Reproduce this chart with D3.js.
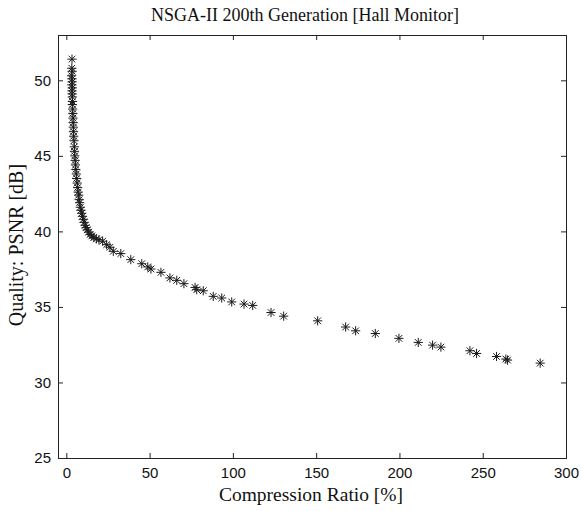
<!DOCTYPE html>
<html>
<head>
<meta charset="utf-8">
<script src="https://cdn.jsdelivr.net/npm/d3@7"></script>
<style>
  html, body { margin: 0; padding: 0; background: #fff; }
  svg { display: block; }
</style>
</head>
<body>
<svg id="chart" width="582" height="511"></svg>
<script>
// ---- data ----
const compressionRatio = [
  3.4, 3.3, 3.5, 3.2, 3.4, 3.5, 3.3, 3.6, 3.4, 3.5,
  3.6, 3.7, 3.6, 3.8, 3.9, 4.0, 4.1, 4.2, 4.3, 4.4,
  4.6, 4.8, 4.9, 5.1, 5.3, 5.5, 5.7, 6.0, 6.2, 6.5,
  6.8, 7.1, 7.4, 7.7, 8.0, 8.4, 8.8, 9.2, 9.7, 10.2,
  10.7, 11.3, 11.9, 12.6, 13.4, 14.3, 15.3, 16.5, 18.0, 19.6,
  21.8, 24.2, 26.2, 28.2, 32.7, 38.7, 45.3, 48.9, 50.8, 56.8,
  62.2, 66.3, 70.6, 77.3, 78.3, 82.2, 88.2, 93.3, 99.3, 106.7,
  111.9, 122.9, 130.5, 150.9, 167.7, 173.7, 185.5, 199.7, 211.3, 219.9,
  224.9, 242.3, 246.3, 258.3, 263.9, 264.9, 284.5
];
const psnr = [
  51.4, 50.8, 50.6, 50.3, 50.1, 49.9, 49.7, 49.5, 49.3, 49.1,
  48.9, 48.6, 48.4, 48.1, 47.8, 47.5, 47.2, 46.9, 46.6, 46.3,
  46.0, 45.6, 45.3, 45.0, 44.7, 44.4, 44.1, 43.8, 43.5, 43.2,
  42.9, 42.6, 42.4, 42.1, 41.9, 41.6, 41.4, 41.2, 41.0, 40.8,
  40.6, 40.4, 40.25, 40.1, 39.95, 39.8, 39.7, 39.6, 39.5, 39.45,
  39.35, 39.12, 38.95, 38.68, 38.53, 38.13, 37.86, 37.65, 37.51, 37.29,
  36.92, 36.76, 36.54, 36.29, 36.14, 36.07, 35.7, 35.59, 35.33, 35.19,
  35.1, 34.63, 34.39, 34.08, 33.67, 33.42, 33.24, 32.92, 32.65, 32.47,
  32.34, 32.1, 31.92, 31.72, 31.55, 31.48, 31.28
];
const xTicks = [0, 50, 100, 150, 200, 250, 300];
const yTicks = [25, 30, 35, 40, 45, 50];
const titleText = "NSGA-II 200th Generation [Hall Monitor]";
const xLabelText = "Compression Ratio [%]";
const yLabelText = "Quality: PSNR [dB]";

// ---- layout ----
const W = 582, H = 511;
const margin = { left: 58, right: 16, top: 35, bottom: 53 };
const iw = W - margin.left - margin.right;
const ih = H - margin.top - margin.bottom;

const svg = d3.select("#chart");
const g = svg.append("g").attr("transform", `translate(${margin.left},${margin.top})`);

const x = d3.scaleLinear().domain([-5, 300]).range([0, iw]);
const y = d3.scaleLinear().domain([25, 53]).range([ih, 0]);

const tickFont = "'Liberation Sans', Arial, sans-serif";
const serifFont = "'Liberation Serif', 'DejaVu Serif', serif";

// axes with inward ticks (MATLAB style, box on)
function styleAxis(sel) {
  sel.selectAll(".domain").remove();
  sel.selectAll("line").attr("stroke", "#222").attr("stroke-width", 1);
  sel.selectAll("text").attr("fill", "#111").style("font-family", tickFont).style("font-size", "15px");
}

const xAxisB = g.append("g").attr("transform", `translate(0,${ih})`)
  .call(d3.axisBottom(x).tickValues(xTicks).tickSize(-5).tickPadding(9).tickFormat(d3.format("d")));
styleAxis(xAxisB);

const xAxisT = g.append("g")
  .call(d3.axisTop(x).tickValues(xTicks).tickSize(-5).tickFormat(""));
styleAxis(xAxisT);

const yAxisL = g.append("g")
  .call(d3.axisLeft(y).tickValues(yTicks).tickSize(-5).tickPadding(7).tickFormat(d3.format("d")));
styleAxis(yAxisL);

const yAxisR = g.append("g").attr("transform", `translate(${iw},0)`)
  .call(d3.axisRight(y).tickValues(yTicks).tickSize(-5).tickFormat(""));
styleAxis(yAxisR);

// box
g.append("rect").attr("x", 0.5).attr("y", 0.5).attr("width", iw).attr("height", ih)
  .attr("fill", "none").attr("stroke", "#222").attr("stroke-width", 1);

// asterisk markers
const r = 4.6, dd = r * 0.72;
const starPath = `M${-r},0H${r}M0,${-r}V${r}M${-dd},${-dd}L${dd},${dd}M${-dd},${dd}L${dd},${-dd}`;
const pts = compressionRatio.map((c, i) => ({ c, p: psnr[i] }));
g.append("g").selectAll("path").data(pts).enter().append("path")
  .attr("d", starPath)
  .attr("transform", d => `translate(${x(d.c)},${y(d.p)})`)
  .attr("fill", "none")
  .attr("stroke", "#1a1a1a")
  .attr("stroke-width", 1);

// title and labels
svg.append("text").attr("x", 305).attr("y", 21).attr("text-anchor", "middle")
  .style("font-family", serifFont).style("font-size", "18px").attr("fill", "#111")
  .text(titleText);

svg.append("text").attr("x", 311).attr("y", 501).attr("text-anchor", "middle")
  .style("font-family", serifFont).style("font-size", "19.5px").attr("fill", "#111")
  .text(xLabelText);

svg.append("text").attr("transform", `translate(23,${245}) rotate(-90)`).attr("text-anchor", "middle")
  .style("font-family", serifFont).style("font-size", "20px").attr("fill", "#111")
  .text(yLabelText);
</script>
</body>
</html>
